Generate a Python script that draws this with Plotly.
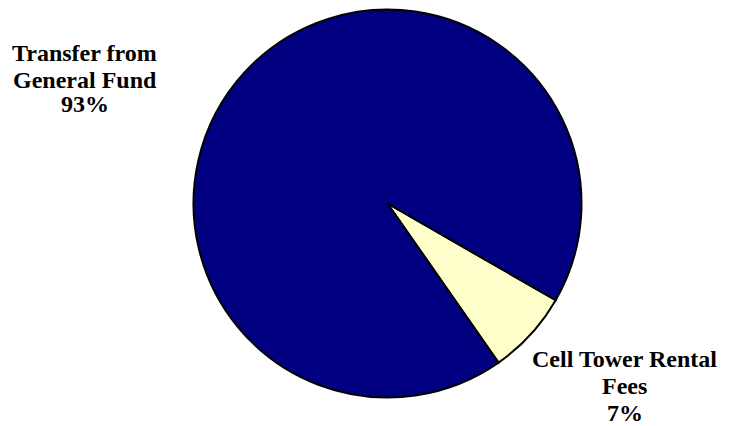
import plotly.graph_objects as go

W, H = 733, 426
FONT = "Liberation Serif"

categories = ["Cell Tower Rental Fees", "Transfer from General Fund"]
values = [7, 93]
colors = ["#FFFFCC", "#000080"]

label_lines = [
    ["Cell Tower Rental", "Fees", "7%"],
    ["Transfer from", "General Fund", "93%"],
]

# pie geometry (pixels)
cx, cy, r = 387.5, 203.5, 194.0

fig = go.Figure()
fig.add_trace(go.Pie(
    labels=categories,
    values=values,
    sort=False,
    direction="clockwise",
    rotation=119.9,
    marker=dict(colors=colors, line=dict(color="black", width=2)),
    textinfo="none",
    hoverinfo="label+percent",
    showlegend=False,
    domain=dict(x=[(cx - r) / W, (cx + r) / W], y=[1 - (cy + r) / H, 1 - (cy - r) / H]),
))

# label line positions (pixels: center x, middle y of each line)
label_pos = [
    (624.5, [359, 386, 413]),
    (84.5, [53, 80, 104]),
]

for lines, (lx, ys) in zip(label_lines, label_pos):
    for txt, ly in zip(lines, ys):
        fig.add_annotation(
            x=lx / W, y=1 - ly / H, xref="paper", yref="paper",
            text="<b>" + txt + "</b>", showarrow=False,
            xanchor="center", yanchor="middle",
            font=dict(family=FONT, size=24),
        )

fig.update_layout(
    width=W, height=H,
    font=dict(family=FONT, color="black"),
    margin=dict(l=0, r=0, t=0, b=0),
    paper_bgcolor="white", plot_bgcolor="white",
)

fig.write_html("out.html")
